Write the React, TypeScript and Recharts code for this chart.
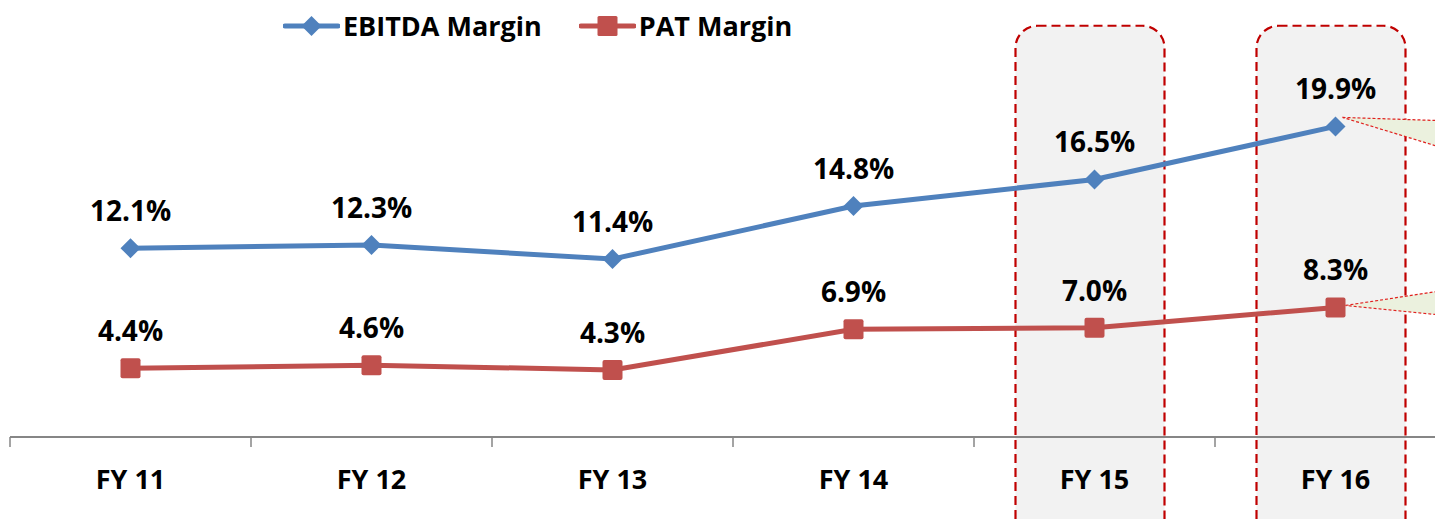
import React from 'react';
import { LineChart, Line, XAxis, YAxis, ReferenceArea, Legend, LabelList } from 'recharts';

const years = ['FY 11', 'FY 12', 'FY 13', 'FY 14', 'FY 15', 'FY 16'];
const ebitdaMargin = [12.1, 12.3, 11.4, 14.8, 16.5, 19.9];
const patMargin = [4.4, 4.6, 4.3, 6.9, 7.0, 8.3];
const highlightedYears = ['FY 15', 'FY 16'];
const seriesNames = ['EBITDA Margin', 'PAT Margin'];

const data = years.map((y, i) => ({ year: y, ebitda: ebitdaMargin[i], pat: patMargin[i] }));

const BLUE = '#4F81BD';
const RED = '#C0504D';
const FONT = '"Open Sans", sans-serif';
const BAND = 241;

const Diamond = (props: any) => {
  const { cx, cy } = props;
  if (cx == null || cy == null) return null;
  const r = 10;
  return <polygon points={`${cx},${cy - r} ${cx + r},${cy} ${cx},${cy + r} ${cx - r},${cy}`} fill={BLUE} />;
};

const Square = (props: any) => {
  const { cx, cy } = props;
  if (cx == null || cy == null) return null;
  return <rect x={cx - 10} y={cy - 10} width={20} height={20} rx={2} fill={RED} />;
};

const makeLabel = (series: 'ebitda' | 'pat') => (props: any) => {
  const { x, y, value, index } = props;
  const last = index === years.length - 1;
  let callout = null;
  if (last) {
    const pts =
      series === 'ebitda'
        ? [[7, -9], [200, -2.7], [200, 49.7]]
        : [[10, -2], [200, -31], [200, 17]];
    const pStr = pts.map((p) => `${x + p[0]},${y + p[1]}`).join(' ');
    callout = (
      <polygon points={pStr} fill="#EBF1DE" stroke="#E0201E" strokeWidth={1.2} strokeDasharray="3 2" />
    );
  }
  return (
    <g>
      {callout}
      <text
        x={x}
        y={y - 38}
        textAnchor="middle"
        dominantBaseline="central"
        fontFamily={FONT}
        fontWeight={700}
        fontSize={28}
        fill="#000"
      >
        {`${Number(value).toFixed(1)}%`}
      </text>
    </g>
  );
};

const HighlightBox = (props: any) => {
  const { x, y, width, height } = props;
  const w = 149;
  const bx = x + (width - w) / 2 - 4.5;
  return (
    <rect
      x={bx}
      y={y}
      width={w}
      height={height}
      rx={22}
      ry={22}
      fill="#F2F2F2"
      stroke="#C00000"
      strokeWidth={2.2}
      strokeDasharray="9 5"
    />
  );
};

const XTick = (props: any) => {
  const { x, y, payload } = props;
  const bx = x - BAND / 2;
  return (
    <g>
      <line x1={bx} y1={y} x2={bx} y2={y + 10} stroke="#868686" strokeWidth={1.5} />
      <text
        x={x}
        y={y + 41}
        textAnchor="middle"
        dominantBaseline="central"
        fontFamily={FONT}
        fontWeight={700}
        fontSize={27}
        fill="#000"
      >
        {payload.value}
      </text>
    </g>
  );
};

const LegendContent = () => {
  const items = [
    { name: seriesNames[0], color: BLUE, marker: 'diamond' },
    { name: seriesNames[1], color: RED, marker: 'square' },
  ];
  return (
    <div style={{ display: 'flex', alignItems: 'center', height: 30 }}>
      {items.map((it, i) => (
        <div key={it.name} style={{ display: 'flex', alignItems: 'center', marginRight: i === 0 ? 37 : 0 }}>
          <svg width={57} height={24} style={{ display: 'block' }}>
            <line x1={2} y1={12} x2={55} y2={12} stroke={it.color} strokeWidth={5} strokeLinecap="round" />
            {it.marker === 'diamond' ? (
              <polygon points="28.5,2 38.5,12 28.5,22 18.5,12" fill={it.color} />
            ) : (
              <rect x={18.5} y={2} width={20} height={20} rx={1.5} fill={it.color} />
            )}
          </svg>
          <span
            style={{
              fontFamily: FONT,
              fontWeight: 700,
              fontSize: 27,
              color: '#000',
              marginLeft: 3,
              lineHeight: '30px',
              whiteSpace: 'nowrap',
            }}
          >
            {it.name}
          </span>
        </div>
      ))}
    </div>
  );
};

export default function App() {
  return (
    <div style={{ position: 'absolute', left: 0, top: 0, width: 1435, height: 519, overflow: 'hidden', background: '#fff' }}>
      <LineChart width={1456} height={519} data={data} margin={{ top: 0, right: 0, left: 10, bottom: 0 }}>
        <YAxis hide domain={[0, 28]} type="number" allowDataOverflow />
        {highlightedYears.map((yr) => (
          <ReferenceArea key={yr} x1={yr} x2={yr} y1={-8} y2={26.35} ifOverflow="visible" shape={HighlightBox} />
        ))}
        <XAxis
          dataKey="year"
          scale="band"
          interval={0}
          height={82}
          tickLine={false}
          tickSize={0}
          tickMargin={0}
          axisLine={{ stroke: '#868686', strokeWidth: 2 }}
          tick={XTick}
        />
        <Legend
          verticalAlign="middle"
          align="center"
          layout="horizontal"
          wrapperStyle={{ top: 11, left: 283, width: 'auto', height: 30 }}
          content={LegendContent}
        />
        <Line
          dataKey="ebitda"
          name={seriesNames[0]}
          stroke={BLUE}
          strokeWidth={5}
          dot={Diamond}
          activeDot={false}
          isAnimationActive={false}
        >
          <LabelList dataKey="ebitda" content={makeLabel('ebitda')} />
        </Line>
        <Line
          dataKey="pat"
          name={seriesNames[1]}
          stroke={RED}
          strokeWidth={5}
          dot={Square}
          activeDot={false}
          isAnimationActive={false}
        >
          <LabelList dataKey="pat" content={makeLabel('pat')} />
        </Line>
      </LineChart>
    </div>
  );
}
